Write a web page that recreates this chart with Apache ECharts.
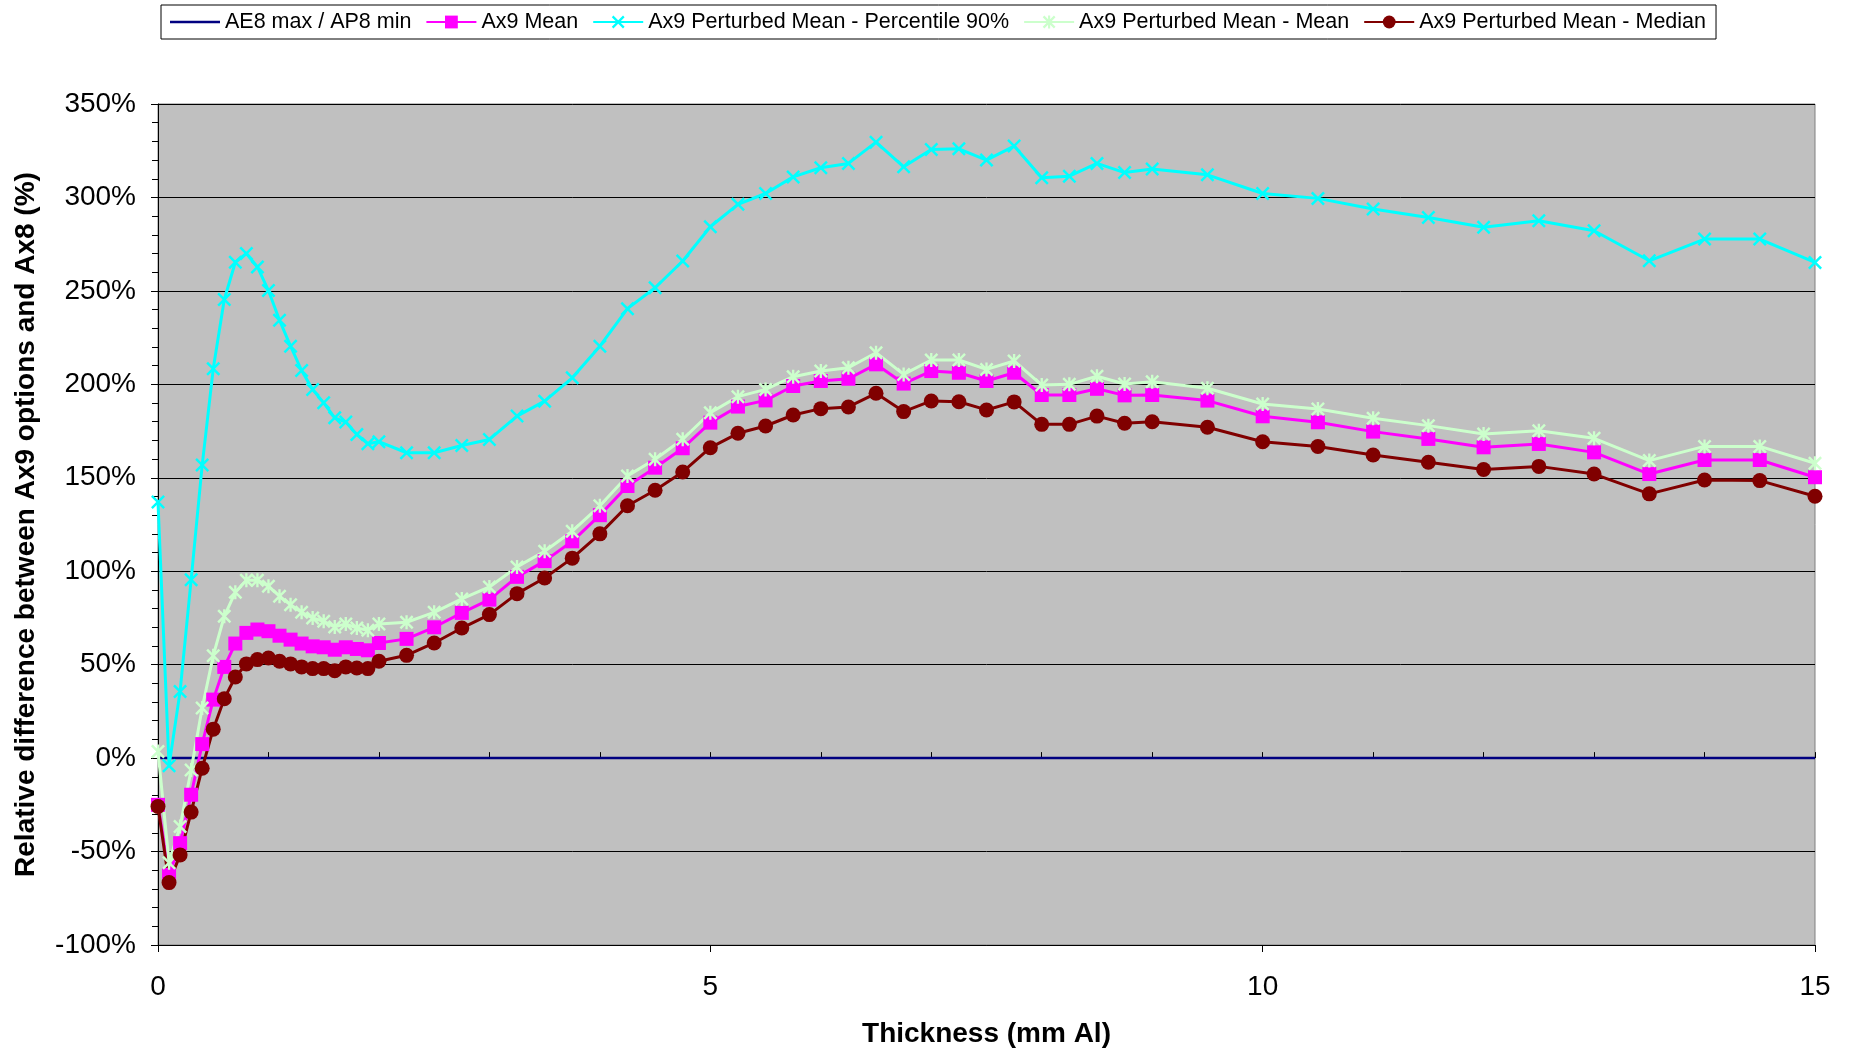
<!DOCTYPE html>
<html>
<head>
<meta charset="utf-8">
<script src="https://cdn.jsdelivr.net/npm/echarts@6/dist/echarts.min.js"></script>
<style>
html,body{margin:0;padding:0;background:#fff;}
#chart{width:1849px;height:1049px;}
</style>
</head>
<body>
<div id="chart"></div>
<script>
// ---- Data ----
var thickness = [0,0.1,0.2,0.3,0.4,0.5,0.6,0.7,0.8,0.9,1.0,1.1,1.2,1.3,1.4,1.5,1.6,1.7,1.8,1.9,2.0,
  2.25,2.5,2.75,3.0,3.25,3.5,3.75,4.0,4.25,4.5,4.75,5.0,5.25,5.5,5.75,6.0,6.25,6.5,6.75,7.0,7.25,7.5,7.75,8.0,8.25,8.5,8.75,9.0,
  9.5,10,10.5,11,11.5,12,12.5,13,13.5,14,14.5,15];

var ae8X = [0, 15];
var ae8Y = [0, 0];

var ax9Mean = [-25,-62.5,-45.5,-19.6,7.5,31.3,48.8,61.3,67,68.8,67.9,65.5,63.4,61.3,59.8,59.3,58,59.3,58.4,57.7,61.6,
  63.8,70,77.7,84.8,97,105.4,116,130,145.6,155.4,165.8,179.5,188.1,191.4,199.1,201.8,203,210.7,200.4,207.1,206.2,201.8,206.2,194.3,194.3,197.6,194.1,194.3,
  191.3,182.9,179.7,174.7,170.8,166.3,168.1,163.6,152,159.5,159.5,150.3];

var ax9P90 = [137,-4.1,35.7,95.5,156.8,208.3,245.4,265.3,270,262.8,250.2,234.3,220.4,207.4,197.2,190.1,182.1,179.8,173.2,168.2,169.3,
  163.4,163.4,167.3,170.5,183,191,203.5,220.4,240.5,251.7,266,284.3,296.3,302.1,311,315.9,318.2,329.6,316.4,325.7,326,320,327.5,310.5,311.4,318.2,313.3,315.2,
  312.1,302.1,299.5,293.8,289.3,284,287.5,282.2,266.1,277.7,277.7,265.2];

var ax9PMean = [3.6,-56,-36.6,-6.3,26.8,54.8,75.9,88.8,95.2,95.2,92,86.6,82,78,75,73.2,70.2,71.8,69.6,68.4,71.8,
  72.7,78,85.2,91.6,102.3,110.7,121.4,135,151,159.9,170.6,184.8,193.4,197.3,204.1,207.1,208.9,216.9,205.3,213,213,208,212.5,199.6,200,204.3,200.2,201.4,
  197.9,189.5,186.8,181.8,177.9,173.4,175.2,171.1,159.2,166.8,166.8,157.8];

var ax9PMedian = [-25.9,-66.6,-51.8,-28.9,-5.4,15.5,31.8,43.4,50.4,52.7,53.6,51.8,50.4,48.8,47.9,47.9,46.8,48.8,48.2,47.9,51.8,
  55,61.6,69.6,76.8,88,96.4,107,120,135,143.3,153.1,166.1,173.8,177.7,183.6,187,187.9,195.2,185.4,191.1,190.7,186.3,190.6,178.6,178.6,183,179.2,180,
  177,169.3,166.7,162.2,158.3,154.4,156.1,152,141.4,148.8,148.5,140.1];

var seriesNames = ['AE8 max / AP8 min','Ax9 Mean','Ax9 Perturbed Mean - Percentile 90%','Ax9 Perturbed Mean - Mean','Ax9 Perturbed Mean - Median'];

// ---- Build ----
function pairs(xs, ys){ return xs.map(function(x,i){ return [x, ys[i]]; }); }

var X_SYM = 'path://M0,1.5L1.5,0L12,10.5L10.5,12Z M10.5,0L12,1.5L1.5,12L0,10.5Z';
var STAR_SYM = 'path://M0,1.5L1.5,0L12,10.5L10.5,12Z M10.5,0L12,1.5L1.5,12L0,10.5Z M5,0L7,0L7,12L5,12Z';
var LINE_ICON = 'path://M0,0L50,0L50,2.5L0,2.5Z';

var FONT = '"Liberation Sans", Arial, sans-serif';

var legendData = seriesNames.map(function(n, i){
  return i === 0 ? {name: n, icon: LINE_ICON} : {name: n};
});

var chart = echarts.init(document.getElementById('chart'), null, {renderer:'canvas'});
chart.setOption({
  animation: false,
  backgroundColor: '#ffffff',
  textStyle: {fontFamily: FONT},
  legend: {
    left: 161, top: 5,
    padding: [6, 10, 6, 9],
    borderColor: '#000', borderWidth: 1,
    backgroundColor: '#fff',
    itemWidth: 50, itemHeight: 16, itemGap: 14,
    textStyle: {fontFamily: FONT, fontSize: 21.5, color: '#000'},
    data: legendData
  },
  grid: {
    left: 158, right: 34, top: 104, bottom: 104,
    outerBoundsMode: 'none',
    containLabel: false,
    show: true, backgroundColor: '#C0C0C0', borderColor: '#808080', borderWidth: 1
  },
  xAxis: [{
    type: 'value', min: 0, max: 15, interval: 5,
    name: 'Thickness (mm Al)', nameLocation: 'middle', nameGap: 75,
    nameTextStyle: {fontFamily: FONT, fontSize: 28, fontWeight: 'bold', color: '#000'},
    axisLine: {show: true, onZero: false, lineStyle: {color: '#000', width: 1}},
    axisTick: {show: true, inside: false, length: 7, lineStyle: {color: '#000'}},
    axisLabel: {fontFamily: FONT, fontSize: 28, color: '#000', margin: 28},
    splitLine: {show: false}
  }, {
    type: 'value', min: 0, max: 15, interval: 1, position: 'bottom',
    axisLine: {show: false},
    axisTick: {show: true, inside: true, length: 6, lineStyle: {color: '#000'}},
    axisLabel: {show: false},
    splitLine: {show: false}
  }],
  yAxis: {
    type: 'value', min: -100, max: 350, interval: 50,
    name: 'Relative difference between Ax9 options and Ax8 (%)',
    nameLocation: 'middle', nameGap: 118,
    nameTextStyle: {fontFamily: FONT, fontSize: 28, fontWeight: 'bold', color: '#000'},
    axisLine: {show: true, onZero: false, lineStyle: {color: '#000', width: 1}},
    axisTick: {show: true, inside: false, length: 7, lineStyle: {color: '#000'}},
    minorTick: {show: true, splitNumber: 5, length: 6, lineStyle: {color: '#000'}},
    axisLabel: {fontFamily: FONT, fontSize: 28, color: '#000', margin: 22, formatter: '{value}%'},
    splitLine: {show: true, lineStyle: {color: '#000', width: 1}}
  },
  series: [{
    name: seriesNames[0], type: 'line', data: pairs(ae8X, ae8Y),
    symbol: 'none', lineStyle: {color: '#000080', width: 2.5}, itemStyle: {color: '#000080'}
  }, {
    name: seriesNames[1], type: 'line', data: pairs(thickness, ax9Mean),
    symbol: 'rect', symbolSize: 14,
    lineStyle: {color: '#FF00FF', width: 3}, itemStyle: {color: '#FF00FF'}
  }, {
    name: seriesNames[2], type: 'line', data: pairs(thickness, ax9P90),
    symbol: X_SYM, symbolSize: 14,
    lineStyle: {color: '#00FFFF', width: 3}, itemStyle: {color: '#00FFFF'}
  }, {
    name: seriesNames[3], type: 'line', data: pairs(thickness, ax9PMean),
    symbol: STAR_SYM, symbolSize: 14,
    lineStyle: {color: '#CCFFCC', width: 3}, itemStyle: {color: '#CCFFCC'}
  }, {
    name: seriesNames[4], type: 'line', data: pairs(thickness, ax9PMedian),
    symbol: 'circle', symbolSize: 15,
    lineStyle: {color: '#800000', width: 3}, itemStyle: {color: '#800000'}
  }]
});
</script>
</body>
</html>
